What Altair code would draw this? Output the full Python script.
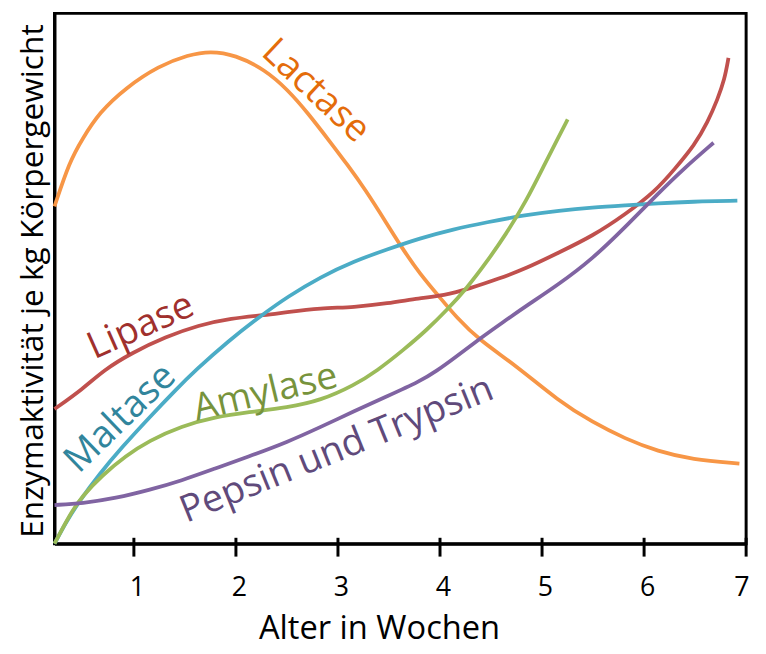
import altair as alt
import pandas as pd

# ---- data (weeks vs. relative enzyme activity, 0-100) ----
lactase_x = [0.222, 0.368, 0.494, 0.660, 0.922, 1.243, 1.535, 1.749, 1.992, 2.284, 2.508, 2.702, 2.926, 3.091,
             3.267, 3.481, 3.626, 3.802, 3.996, 4.161, 4.385, 4.745, 5.163, 5.494, 5.815, 6.136, 6.467, 6.934]
lactase_y = [63.6, 72.0, 76.3, 81.3, 86.0, 90.1, 92.2, 92.9, 92.2, 89.4, 85.6, 81.3, 75.7, 71.5,
             66.8, 60.3, 55.8, 50.9, 46.5, 42.7, 38.4, 33.6, 26.9, 22.9, 19.8, 17.4, 15.9, 15.1]

lipase_x = [0.222, 0.494, 0.708, 0.981, 1.311, 1.632, 1.953, 2.284, 2.508, 2.829, 3.159, 3.481, 3.802, 4.035,
            4.288, 4.580, 4.842, 5.163, 5.494, 5.815, 6.107, 6.302, 6.496, 6.623, 6.720, 6.788, 6.827]
lipase_y = [25.4, 29.1, 32.8, 36.0, 39.0, 41.2, 42.5, 43.1, 43.7, 44.4, 44.6, 45.3, 46.3, 46.8,
            48.1, 50.0, 51.9, 54.9, 58.0, 62.1, 66.4, 70.7, 75.2, 79.5, 83.8, 87.5, 91.6]

maltase_x = [0.222, 0.339, 0.465, 0.660, 0.883, 1.146, 1.409, 1.603, 1.924, 2.245, 2.508, 2.829, 3.160, 3.481,
             3.802, 4.132, 4.453, 4.842, 5.163, 5.494, 5.815, 6.136, 6.467, 6.914]
maltase_y = [0.0, 4.2, 8.0, 13.1, 18.2, 23.7, 29.0, 32.7, 38.2, 43.0, 46.6, 50.3, 53.3, 55.5,
             57.6, 59.3, 60.6, 62.0, 62.8, 63.4, 63.8, 64.2, 64.5, 64.7]

amylase_x = [0.222, 0.368, 0.494, 0.689, 0.922, 1.146, 1.467, 1.798, 2.119, 2.508, 2.829, 3.160, 3.383, 3.646,
             3.870, 4.064, 4.259, 4.453, 4.648, 4.842, 5.037, 5.163, 5.251]
amylase_y = [0.0, 5.4, 9.0, 12.9, 16.6, 19.4, 22.2, 23.9, 24.8, 25.7, 27.0, 29.9, 32.6, 36.6,
             40.3, 44.0, 48.1, 53.0, 58.4, 64.5, 72.0, 76.7, 80.0]

pepsin_x = [0.222, 0.494, 0.825, 1.146, 1.467, 1.798, 2.119, 2.508, 2.829, 3.160, 3.481, 3.802, 3.967, 4.132,
            4.385, 4.619, 4.842, 5.163, 5.494, 5.815, 6.136, 6.399, 6.681]
pepsin_y = [7.3, 7.6, 8.6, 10.1, 11.9, 14.2, 16.4, 19.2, 22.0, 25.0, 27.8, 30.6, 32.6, 34.9,
            38.6, 41.8, 44.8, 48.9, 53.7, 59.7, 66.0, 70.9, 75.6]

series_names = ["Lactase", "Lipase", "Maltase", "Amylase", "Pepsin und Trypsin"]
series_x = [lactase_x, lipase_x, maltase_x, amylase_x, pepsin_x]
series_y = [lactase_y, lipase_y, maltase_y, amylase_y, pepsin_y]
line_colors = ["#F79646", "#C0504D", "#4BACC6", "#9BBB59", "#8064A2"]
text_colors = ["#E46C0A", "#A0302D", "#31859C", "#77933C", "#604A7B"]

# label placements (weeks, activity, rotation)
label_x = [2.78, 1.07, 0.87, 2.29, 2.99]
label_y = [85.3, 40.9, 23.6, 28.4, 17.6]
label_angle = [43, 336, 316, 346.5, 338]

tick_values = [1, 2, 3, 4, 5, 6, 7]

FONT = "Open Sans"
W, H = 699, 536

xscale = alt.Scale(domain=[0.222, 7.0], nice=False, zero=False)
yscale = alt.Scale(domain=[0, 100], nice=False)

rows = []
for name, xs, ys in zip(series_names, series_x, series_y):
    for i, (a, b) in enumerate(zip(xs, ys)):
        rows.append({"enzyme": name, "woche": a, "aktivitaet": b, "order": i})
df = pd.DataFrame(rows)

x_axis = alt.Axis(
    title="Alter in Wochen", values=tick_values, format="d", ticks=False,
    labelFontSize=27, labelFont=FONT, labelColor="black",
    labelBaseline="alphabetic", labelPadding=52, labelOffset=3,
    domainColor="black", domainWidth=3, grid=False,
    titleFont=FONT, titleFontSize=33, titleFontWeight="normal", titleColor="black",
    titleX=328, titleY=96, titleBaseline="alphabetic",
)
y_axis = alt.Axis(
    title="Enzymaktivität je kg Körpergewicht", labels=False, ticks=False, grid=False,
    domainColor="black", domainWidth=3,
    titleFont=FONT, titleFontSize=32, titleFontWeight="normal", titleColor="black",
    titleX=-12, titleY=270, titleAngle=270, titleBaseline="alphabetic", titleAlign="center",
)

lines = alt.Chart(df).mark_line(strokeWidth=3.8, interpolate="basis", strokeCap="butt").encode(
    x=alt.X("woche:Q", scale=xscale, axis=x_axis),
    y=alt.Y("aktivitaet:Q", scale=yscale, axis=y_axis),
    color=alt.Color("enzyme:N", scale=alt.Scale(domain=series_names, range=line_colors), legend=None),
    order="order:Q",
    detail="enzyme:N",
)

ticks = alt.Chart(pd.DataFrame({"t": tick_values})).mark_rule(color="black", strokeWidth=3).encode(
    x=alt.X("t:Q", scale=xscale),
    y=alt.value(H - 6),
    y2=alt.value(H + 13),
)

layers = [lines, ticks]
for name, lx, ly, ang, col in zip(series_names, label_x, label_y, label_angle, text_colors):
    t = alt.Chart(pd.DataFrame({"name": [name], "lx": [lx], "ly": [ly]})).mark_text(
        font=FONT, fontSize=38, angle=ang, color=col, align="center", baseline="middle"
    ).encode(
        x=alt.X("lx:Q", scale=xscale),
        y=alt.Y("ly:Q", scale=yscale),
        text="name:N",
    )
    layers.append(t)

chart = alt.layer(*layers).properties(
    width=W, height=H,
    padding={"left": 47, "top": 2, "right": 12, "bottom": 108},
    autosize=alt.AutoSizeParams(type="none"),
).configure(
    background="white",
    view=alt.ViewConfig(stroke="black", strokeWidth=3),
)

chart.save("out.html", embed_options={"renderer": "svg", "actions": False})
